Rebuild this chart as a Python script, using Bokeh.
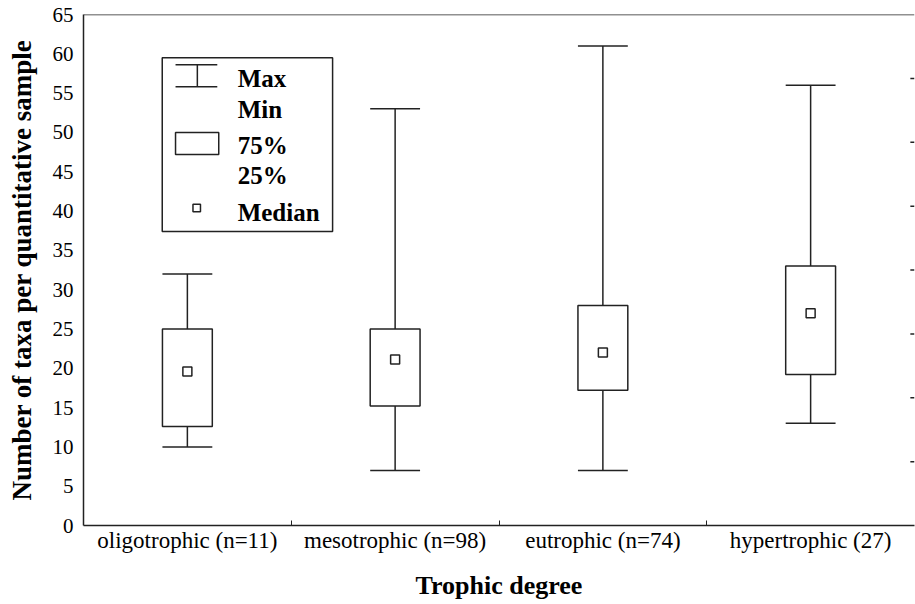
from bokeh.plotting import figure
from bokeh.models import (Range1d, FixedTicker, ColumnDataSource, Span)
from bokeh.core.properties import value
from bokeh.embed import file_html
from bokeh.resources import INLINE

# ---- data ----
categories = ["oligotrophic (n=11)", "mesotrophic (n=98)", "eutrophic (n=74)", "hypertrophic (27)"]
mins = [10, 7, 7, 13]
q1 = [12.6, 15.2, 17.2, 19.2]
medians = [19.6, 21.1, 22.0, 27.0]
q3 = [25, 25, 28, 33]
maxs = [32, 53, 61, 56]
y_ticks = list(range(0, 70, 5))
Y_MAX = 65
RIGHT_DIVISIONS = 8

FONT_NAME = "Liberation Serif"
LINE = "#222222"
LW = 1.5
BOX_W = 0.24
NCAT = len(categories)

xs = [i + 0.5 for i in range(NCAT)]
src = ColumnDataSource(dict(
    x=xs, x0=[x - BOX_W / 2 for x in xs], x1=[x + BOX_W / 2 for x in xs],
    mn=mins, q1=q1, med=medians, q3=q3, mx=maxs))

p = figure(width=915, height=604, output_backend="svg", toolbar_location=None,
           x_range=Range1d(0, NCAT), y_range=Range1d(0, Y_MAX),
           min_border_left=83, min_border_bottom=79, min_border_top=14, min_border_right=1)
p.outline_line_color = None
p.grid.grid_line_color = None

# whiskers, boxes, medians
p.segment(x0="x", y0="q3", x1="x", y1="mx", source=src, line_color=LINE, line_width=LW)
p.segment(x0="x", y0="mn", x1="x", y1="q1", source=src, line_color=LINE, line_width=LW)
p.segment(x0="x0", y0="mx", x1="x1", y1="mx", source=src, line_color=LINE, line_width=LW)
p.segment(x0="x0", y0="mn", x1="x1", y1="mn", source=src, line_color=LINE, line_width=LW)
p.vbar(x="x", width=BOX_W, bottom="q1", top="q3", source=src,
       fill_color="white", line_color=LINE, line_width=LW)
p.scatter(x="x", y="med", source=src, marker="square", size=9,
          fill_color="white", line_color=LINE, line_width=LW)

# top frame line and right-edge inward ticks
p.add_layout(Span(location=Y_MAX, dimension="width", line_color=LINE, line_width=LW))
rt = [Y_MAX * k / RIGHT_DIVISIONS for k in range(1, RIGHT_DIVISIONS)]
TICK_LEN = 0.02
p.segment(x0=[NCAT - TICK_LEN] * len(rt), y0=rt, x1=[NCAT] * len(rt), y1=rt,
          line_color=LINE, line_width=1.5)

# legend (layout constants in data units)
p.quad(left=[0.379], right=[1.199], bottom=[37.4], top=[59.5],
       fill_color="white", line_color=LINE, line_width=LW)
p.segment(x0=[0.443, 0.443, 0.548], y0=[58.6, 55.8, 55.8], x1=[0.644, 0.644, 0.548],
          y1=[58.6, 55.8, 58.6], line_color=LINE, line_width=LW)
p.quad(left=[0.443], right=[0.651], bottom=[47.2], top=[50.0],
       fill_color="white", line_color=LINE, line_width=LW)
p.scatter(x=[0.545], y=[40.4], marker="square", size=7.5,
          fill_color="white", line_color=LINE, line_width=LW)
legend_labels = ["Max", "Min", "75%", "25%", "Median"]
legend_y = [56.9, 52.9, 48.4, 44.5, 39.8]
p.text(x=[0.742] * 5, y=legend_y, text=legend_labels, text_font=value(FONT_NAME),
       text_font_style="bold", text_font_size="25px", text_baseline="middle",
       text_align="left", text_color="black")

# axes
xa = p.xaxis[0]
xa.ticker = FixedTicker(ticks=xs, minor_ticks=list(range(1, NCAT)))
xa.major_label_overrides = {x: c for x, c in zip(xs, categories)}
xa.major_tick_line_color = None
xa.major_tick_out = 0
xa.major_tick_in = 0
xa.minor_tick_in = 5
xa.minor_tick_out = 0
xa.minor_tick_line_color = LINE
xa.axis_line_color = LINE
xa.axis_line_width = LW
xa.major_label_text_font = FONT_NAME
xa.major_label_text_font_size = "23px"
xa.major_label_text_color = "black"
xa.major_label_standoff = 2
xa.axis_label = "Trophic degree"
xa.axis_label_text_font = FONT_NAME
xa.axis_label_text_font_style = "bold"
xa.axis_label_text_font_size = "26px"
xa.axis_label_standoff = 15
xa.axis_label_text_color = "black"

ya = p.yaxis[0]
ya.ticker = FixedTicker(ticks=y_ticks)
ya.major_tick_line_color = None
ya.major_tick_out = 0
ya.major_tick_in = 0
ya.minor_tick_line_color = None
ya.axis_line_color = LINE
ya.axis_line_width = LW
ya.major_label_text_font = FONT_NAME
ya.major_label_text_font_size = "21px"
ya.major_label_text_color = "black"
ya.major_label_standoff = 10
ya.axis_label = "Number of taxa per quantitative sample"
ya.axis_label_text_font = FONT_NAME
ya.axis_label_text_font_style = "bold"
ya.axis_label_text_font_size = "27px"
ya.axis_label_standoff = 13
ya.axis_label_text_color = "black"

open("out.html", "w").write(file_html(p, INLINE))
